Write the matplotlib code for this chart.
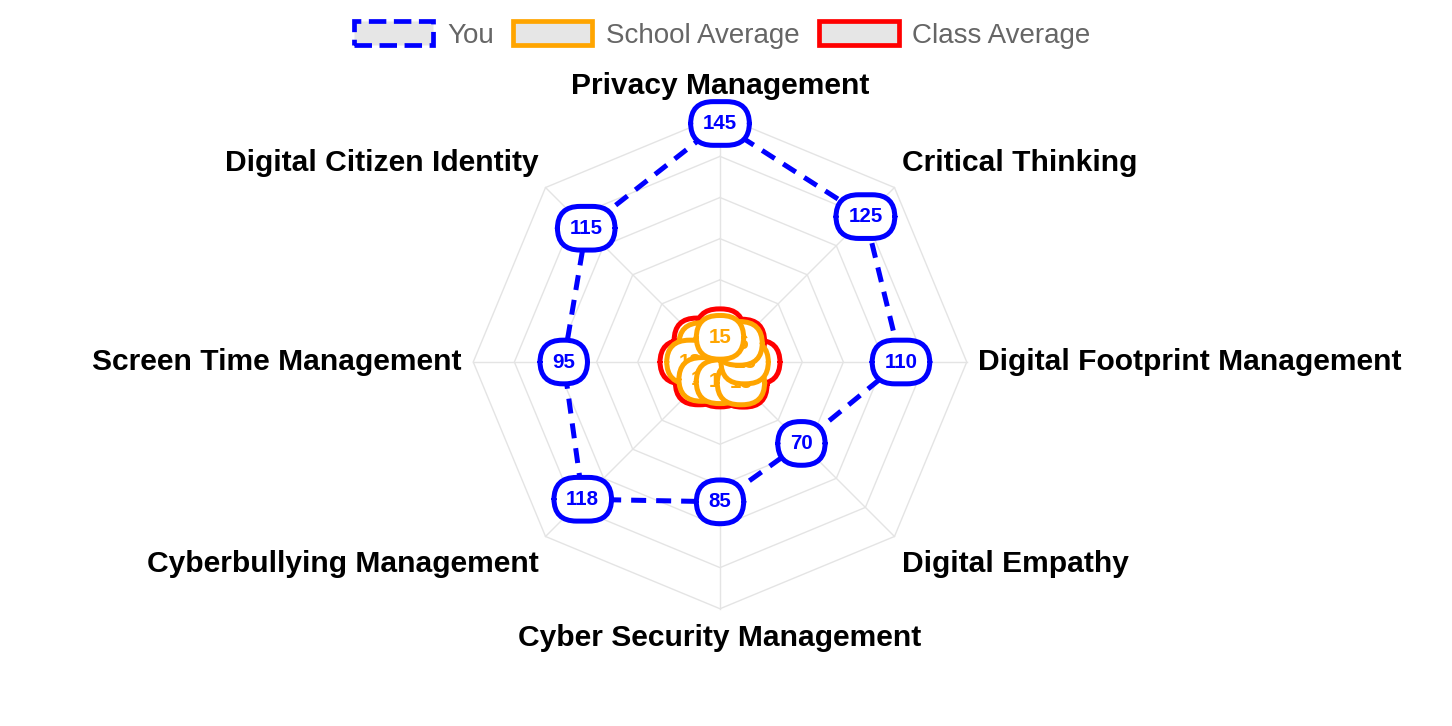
import numpy as np
import matplotlib
matplotlib.use("Agg")
import matplotlib.pyplot as plt
from matplotlib.patches import Patch

categories = ["Privacy Management", "Critical Thinking", "Digital Footprint Management",
              "Digital Empathy", "Cyber Security Management", "Cyberbullying Management",
              "Screen Time Management", "Digital Citizen Identity"]
you_values = [145, 125, 110, 70, 85, 118, 95, 115]
school_values = [15, 16, 15, 18, 12, 15, 18, 15]
class_values = [19, 18, 22, 20, 14, 18, 22, 19]
ring_values = [25, 50, 75, 100, 125, 150]

plt.rcParams['font.family'] = ['Liberation Sans', 'DejaVu Sans']

W, H = 1452, 726
fig = plt.figure(figsize=(W / 100, H / 100), dpi=100)
ax = fig.add_axes([0, 0, 1, 1])
s = 1.645  # px per data unit
cx, cy = 720, 364
ax.set_xlim(-cx / s, (W - cx) / s)
ax.set_ylim(-cy / s, (H - cy) / s)
ax.axis("off")

n = len(categories)
angles = np.pi / 2 - np.arange(n) * 2 * np.pi / n
ca, sa = np.cos(angles), np.sin(angles)

# grid: octagon rings and spokes
for r in ring_values:
    ax.plot(np.append(r * ca, r * ca[0]), np.append(r * sa, r * sa[0]),
            color="#e4e4e4", lw=1, zorder=1)
for i in range(n):
    ax.plot([0, ring_values[-1] * ca[i]], [0, ring_values[-1] * sa[i]],
            color="#e4e4e4", lw=1, zorder=1)

# category labels
label_r = 159
for i, name in enumerate(categories):
    x, y = label_r * ca[i], label_r * sa[i]
    if abs(ca[i]) < 1e-6:
        ha = "center"
    else:
        ha = "left" if ca[i] > 0 else "right"
        x -= 2 * np.sign(ca[i])
    if abs(sa[i]) < 1e-6:
        va = "center"
    else:
        va = "bottom" if sa[i] > 0 else "top"
    if abs(ca[i]) > 1e-6 and sa[i] < -1e-6:
        y -= 2
    ax.text(x, y, name, ha=ha, va=va, fontsize=21.6, fontweight="bold",
            color="black", zorder=2)

series = [
    ("Class Average", class_values, "#ff0000", "-", 3),
    ("School Average", school_values, "#ffa500", "-", 5),
    ("You", you_values, "#0000ff", "--", 7),
]
for name, vals, color, ls, z in series:
    v = np.array(vals, dtype=float)
    xs, ys = v * ca, v * sa
    line, = ax.plot(np.append(xs, xs[0]), np.append(ys, ys[0]), color=color,
                    lw=3.6, ls=ls, zorder=z)
    if ls == "--":
        line.set_dashes((3, 2))
    for i in range(n - 1, -1, -1):
        ax.text(xs[i], ys[i], str(vals[i]), ha="center", va="center",
                fontsize=14.8, fontweight="bold", color=color,
                zorder=z + 0.5 + (n - i) * 0.01,
                bbox=dict(boxstyle="round,pad=0.6,rounding_size=1.1",
                          fc="white", ec=color, lw=3.6))

handles = [
    Patch(facecolor="#e6e6e6", edgecolor="#0000ff", linestyle="--", linewidth=3.4, label="You"),
    Patch(facecolor="#e6e6e6", edgecolor="#ffa500", linewidth=3.4, label="School Average"),
    Patch(facecolor="#e6e6e6", edgecolor="#ff0000", linewidth=3.4, label="Class Average"),
]
leg = fig.legend(handles=handles, loc="center", bbox_to_anchor=(0.4975, 1 - 35 / H),
                 ncol=3, frameon=False, fontsize=20, handlelength=2.85,
                 handleheight=0.9, handletextpad=0.5, columnspacing=0.7)
for t in leg.get_texts():
    t.set_color("#666666")

fig.savefig("out.png", dpi=100)
